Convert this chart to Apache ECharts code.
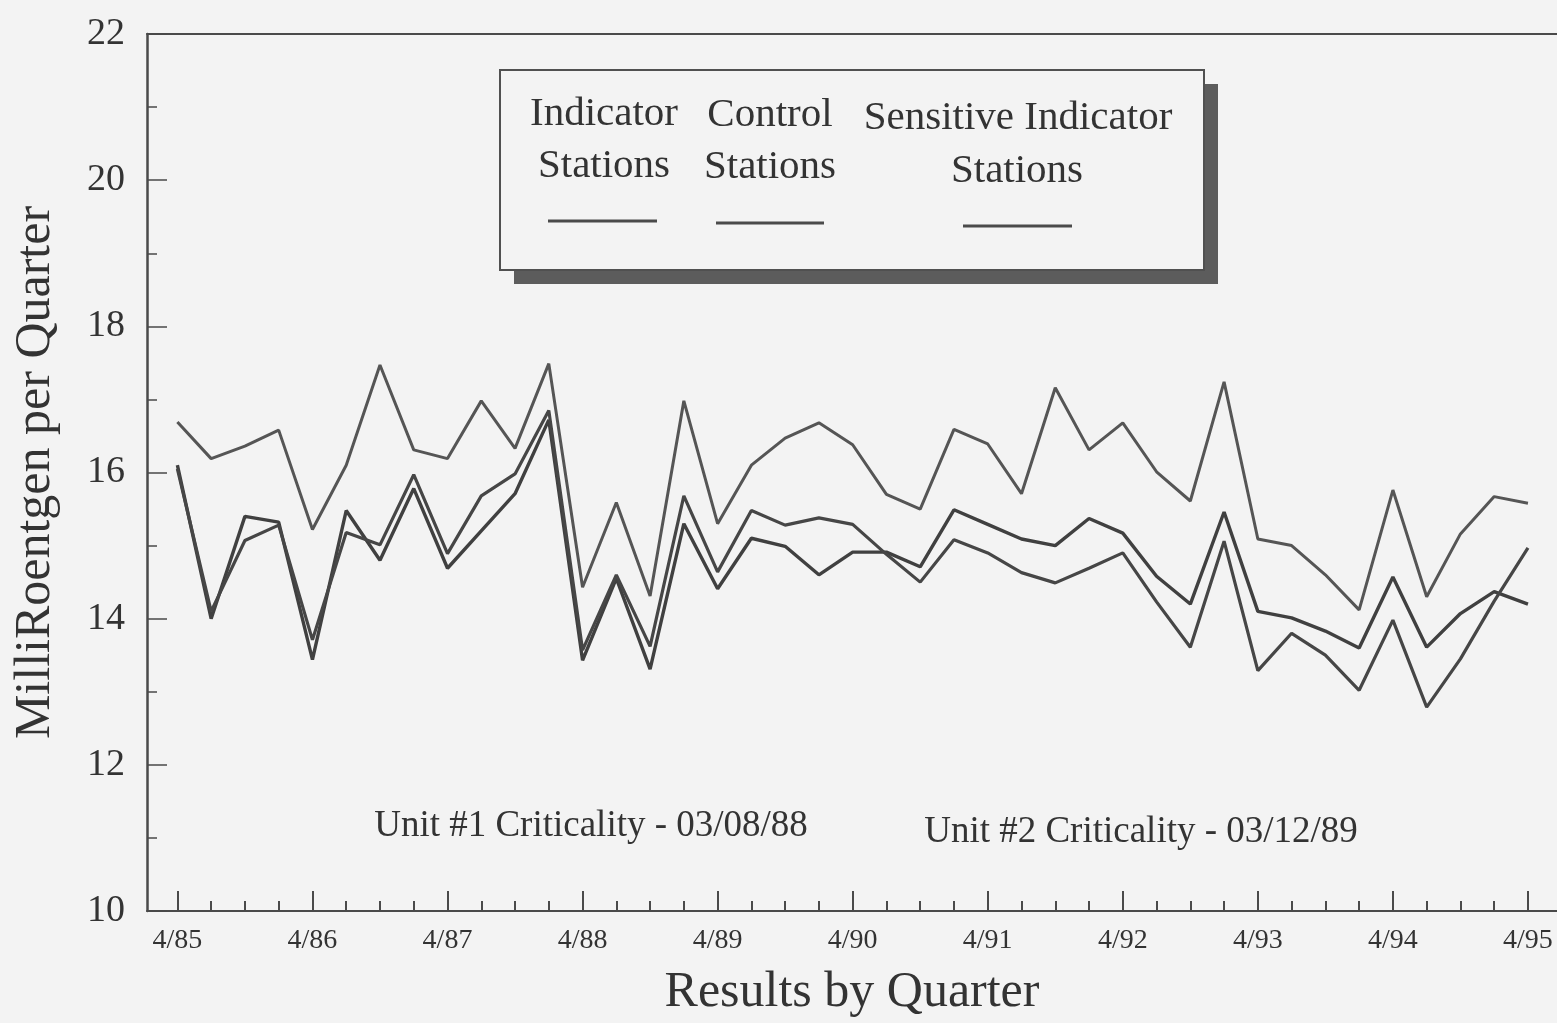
<!DOCTYPE html>
<html>
<head>
<meta charset="utf-8">
<script src="https://cdn.jsdelivr.net/npm/echarts@6/dist/echarts.min.js"></script>
<style>
html,body{margin:0;padding:0;background:#f3f3f3;}
#chart{width:1557px;height:1023px;}
</style>
</head>
<body>
<div id="chart"></div>
<script>
// Quarters (x categories)
const quarters = ['4/85','7/85','10/85','1/86','4/86','7/86','10/86','1/87','4/87','7/87','10/87','1/88',
  '4/88','7/88','10/88','1/89','4/89','7/89','10/89','1/90','4/90','7/90','10/90','1/91',
  '4/91','7/91','10/91','1/92','4/92','7/92','10/92','1/93','4/93','7/93','10/93','1/94',
  '4/94','7/94','10/94','1/95','4/95'];
// Year tick labels (shown on axis)
const yearTickLabels = ['4/85','4/86','4/87','4/88','4/89','4/90','4/91','4/92','4/93','4/94','4/95'];

// Series values (mR per quarter)
const controlStations = [16.69,16.19,16.36,16.58,15.22,16.10,17.47,16.31,16.19,16.98,16.33,17.49,
  14.43,15.59,14.31,16.98,15.30,16.10,16.47,16.68,16.38,15.70,15.50,16.59,
  16.39,15.71,17.16,16.31,16.68,16.01,15.61,17.24,15.09,15.00,14.60,14.12,
  15.76,14.30,15.16,15.67,15.58];
const indicatorStations = [16.10,14.00,15.40,15.32,13.44,15.48,14.80,15.78,14.69,15.20,15.71,16.72,
  13.43,14.55,13.31,15.30,14.41,15.10,14.99,14.60,14.91,14.91,14.71,15.49,
  15.29,15.09,15.00,15.37,15.17,14.58,14.20,15.46,14.10,14.01,13.83,13.60,
  14.57,13.61,14.07,14.37,14.20];
const sensitiveIndicatorStations = [16.05,14.10,15.07,15.28,13.71,15.18,15.01,15.97,14.89,15.68,15.98,16.85,
  13.57,14.60,13.62,15.68,14.64,15.48,15.28,15.38,15.29,14.88,14.50,15.08,
  14.90,14.63,14.49,14.69,14.90,14.23,13.61,15.06,13.29,13.80,13.50,13.02,
  13.98,12.79,13.45,14.24,14.97];

const yTickValues = [10,12,14,16,18,20,22];

const yearIdx = yearTickLabels.map(l => quarters.indexOf(l));
const allIdx = quarters.map((q, i) => i);
const toData = arr => quarters.map((q, i) => [i, arr[i]]);

const FONT = '"Liberation Serif", "Times New Roman", serif';
const INK = '#333333';
const AXIS = '#4a4a4a';
const BG = '#f3f3f3';

const chart = echarts.init(document.getElementById('chart'), null, {renderer: 'canvas'});

const xBase = {
  type: 'value', min: -0.9, max: 40.86, gridIndex: 0,
  splitLine: {show: false}
};

chart.setOption({
  backgroundColor: BG,
  animation: false,
  grid: {left: 147, right: 0, top: 34, bottom: 112, containLabel: false},
  xAxis: [
    Object.assign({}, xBase, {
      position: 'bottom',
      name: 'Results by Quarter',
      nameLocation: 'middle',
      nameGap: 57,
      nameTextStyle: {fontFamily: FONT, fontSize: 50, color: INK},
      axisLine: {show: true, onZero: false, lineStyle: {color: AXIS, width: 2}},
      axisTick: {show: true, inside: true, length: 20, customValues: yearIdx, lineStyle: {color: AXIS, width: 2}},
      axisLabel: {show: true, customValues: yearIdx, margin: 16, fontFamily: FONT, fontSize: 28, color: INK,
        formatter: v => quarters[Math.round(v)]}
    }),
    Object.assign({}, xBase, {
      position: 'bottom',
      axisLine: {show: false, onZero: false},
      axisTick: {show: true, inside: true, length: 10, customValues: allIdx, lineStyle: {color: AXIS, width: 2}},
      axisLabel: {show: false}
    }),
    Object.assign({}, xBase, {
      position: 'top',
      axisLine: {show: true, onZero: false, lineStyle: {color: AXIS, width: 2}},
      axisTick: {show: false},
      axisLabel: {show: false}
    })
  ],
  yAxis: {
    type: 'value', min: 10, max: 22, interval: 2,
    name: 'MilliRoentgen per Quarter',
    nameLocation: 'middle',
    nameGap: 86,
    nameTextStyle: {fontFamily: FONT, fontSize: 50, color: INK},
    axisLine: {show: true, onZero: false, lineStyle: {color: AXIS, width: 2.5}},
    axisTick: {show: true, inside: true, length: 20, lineStyle: {color: AXIS, width: 1.5}},
    minorTick: {show: true, splitNumber: 2, length: 10, lineStyle: {color: AXIS, width: 1.5}},
    axisLabel: {margin: 22, fontFamily: FONT, fontSize: 38, color: INK,
      formatter: v => (yTickValues.indexOf(v) >= 0 ? String(v) : '')},
    splitLine: {show: false},
    minorSplitLine: {show: false}
  },
  series: [
    {name: 'Control Stations', type: 'line', xAxisIndex: 0, data: toData(controlStations),
      showSymbol: false, symbol: 'none', lineStyle: {color: '#555555', width: 3}},
    {name: 'Indicator Stations', type: 'line', xAxisIndex: 0, data: toData(indicatorStations),
      showSymbol: false, symbol: 'none', lineStyle: {color: '#404040', width: 3.4}},
    {name: 'Sensitive Indicator Stations', type: 'line', xAxisIndex: 0, data: toData(sensitiveIndicatorStations),
      showSymbol: false, symbol: 'none', lineStyle: {color: '#464646', width: 3.2}}
  ],
  graphic: [
    // legend box shadow and box
    {type: 'rect', shape: {x: 514, y: 84, width: 704, height: 200}, style: {fill: '#5c5c5c'}, z: 10},
    {type: 'rect', shape: {x: 500, y: 70, width: 704, height: 200}, style: {fill: BG, stroke: '#505050', lineWidth: 2}, z: 11},
    {type: 'text', x: 604, y: 114, style: {text: 'Indicator', font: '41px ' + FONT, fill: INK, align: 'center', verticalAlign: 'middle'}, z: 12},
    {type: 'text', x: 604, y: 166, style: {text: 'Stations', font: '41px ' + FONT, fill: INK, align: 'center', verticalAlign: 'middle'}, z: 12},
    {type: 'text', x: 770, y: 115, style: {text: 'Control', font: '41px ' + FONT, fill: INK, align: 'center', verticalAlign: 'middle'}, z: 12},
    {type: 'text', x: 770, y: 167, style: {text: 'Stations', font: '41px ' + FONT, fill: INK, align: 'center', verticalAlign: 'middle'}, z: 12},
    {type: 'text', x: 1018, y: 118, style: {text: 'Sensitive Indicator', font: '41px ' + FONT, fill: INK, align: 'center', verticalAlign: 'middle'}, z: 12},
    {type: 'text', x: 1017, y: 171, style: {text: 'Stations', font: '41px ' + FONT, fill: INK, align: 'center', verticalAlign: 'middle'}, z: 12},
    {type: 'line', shape: {x1: 548, y1: 221, x2: 657, y2: 221}, style: {stroke: '#4a4a4a', lineWidth: 3}, z: 12},
    {type: 'line', shape: {x1: 716, y1: 223, x2: 824, y2: 223}, style: {stroke: '#4a4a4a', lineWidth: 3}, z: 12},
    {type: 'line', shape: {x1: 963, y1: 226, x2: 1072, y2: 226}, style: {stroke: '#4a4a4a', lineWidth: 3}, z: 12},
    // annotations
    {type: 'text', x: 591, y: 826, style: {text: 'Unit #1 Criticality - 03/08/88', font: '37px ' + FONT, fill: INK, align: 'center', verticalAlign: 'middle'}, z: 12},
    {type: 'text', x: 1141, y: 832, style: {text: 'Unit #2 Criticality - 03/12/89', font: '37px ' + FONT, fill: INK, align: 'center', verticalAlign: 'middle'}, z: 12}
  ]
});
</script>
</body>
</html>
